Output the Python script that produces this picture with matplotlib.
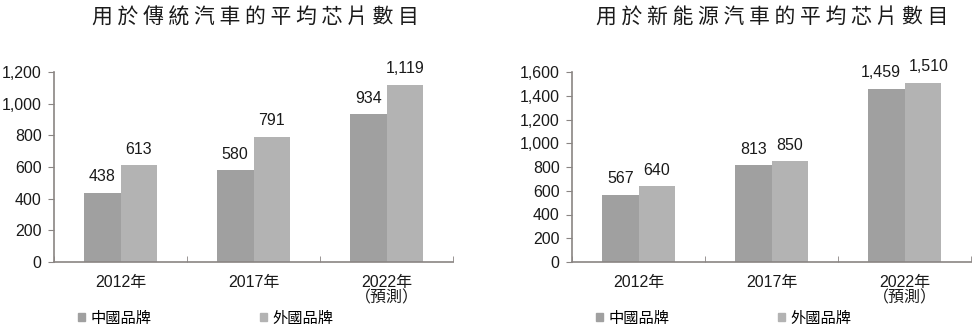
import matplotlib
matplotlib.use("Agg")
import matplotlib.pyplot as plt
from matplotlib.patches import Patch
import numpy as np

plt.rcParams['font.family'] = ['Liberation Sans', 'Noto Sans CJK TC', 'DejaVu Sans']

categories = ["2012年", "2017年", "2022年\n（預測）"]
series_names = ["中國品牌", "外國品牌"]
trad_china = [438, 580, 934]
trad_foreign = [613, 791, 1119]
nev_china = [567, 813, 1459]
nev_foreign = [640, 850, 1510]

title_left = "用於傳統汽車的平均芯片數目"
title_right = "用於新能源汽車的平均芯片數目"

C_DARK = "#a0a0a0"
C_LIGHT = "#b3b3b3"
C_TEXT = "#1a1a1a"
C_SPINE = "#8a8583"
CJK = ["Noto Sans CJK TC", "DejaVu Sans"]

fig = plt.figure(figsize=(9.77, 3.29), dpi=100)


def draw(ax, china, foreign, ymax, step, title, title_x, nudge=0):
    x = np.arange(len(categories))
    w = 0.275
    ax.bar(x - w / 2, china, w, color=C_DARK, zorder=2)
    ax.bar(x + w / 2, foreign, w, color=C_LIGHT, zorder=2)
    for i, (xi, v) in enumerate(zip(x - w / 2, china)):
        dx = -nudge if i == len(x) - 1 else 0
        ax.annotate(f"{v:,}", (xi, v), xytext=(dx, 6), textcoords="offset points",
                    ha="center", va="bottom", fontsize=11.5, color=C_TEXT)
    for i, (xi, v) in enumerate(zip(x + w / 2, foreign)):
        dx = nudge if i == len(x) - 1 else 0
        ax.annotate(f"{v:,}", (xi, v), xytext=(dx, 6), textcoords="offset points",
                    ha="center", va="bottom", fontsize=11.5, color=C_TEXT)
    ax.set_xlim(-0.5, len(categories) - 0.5)
    ax.set_ylim(0, ymax)
    ticks = np.arange(0, ymax + 1, step)
    ax.set_yticks(ticks)
    ax.set_yticklabels([f"{t:,}" for t in ticks])
    ax.set_xticks(x)
    ax.set_xticklabels(categories, fontsize=11.5, color=C_TEXT, linespacing=1.05)
    ax.set_xticks(np.arange(-0.5, len(categories)), minor=True)
    ax.tick_params(axis="x", which="major", length=0, pad=9)
    ax.tick_params(axis="x", which="minor", length=4, color=C_SPINE, direction="in")
    ax.tick_params(axis="y", length=4, color=C_SPINE, labelsize=11.5,
                   labelcolor=C_TEXT, pad=5)
    for s in ["top", "right"]:
        ax.spines[s].set_visible(False)
    for s in ["left", "bottom"]:
        ax.spines[s].set_color(C_SPINE)
        ax.spines[s].set_linewidth(1.2)
    handles = [Patch(color=C_DARK), Patch(color=C_LIGHT)]
    ax.legend(handles, series_names, loc="center left", bbox_to_anchor=(0.045, -0.295),
              ncol=2, frameon=False, handlelength=0.45, handleheight=0.45,
              handletextpad=0.35, columnspacing=7.1, borderaxespad=0,
              prop={"family": CJK, "size": 11})
    fig.text(title_x, 0.947, " ".join(title), ha="center", va="center",
             fontsize=15, color=C_TEXT, family=CJK, weight=500)


ax1 = fig.add_axes([54 / 977, 1 - 262 / 329, 399 / 977, 190 / 329])
ax2 = fig.add_axes([572 / 977, 1 - 262 / 329, 399 / 977, 190 / 329])
draw(ax1, trad_china, trad_foreign, 1200, 200, title_left, 255 / 977)
draw(ax2, nev_china, nev_foreign, 1600, 200, title_right, 772 / 977, nudge=4)

fig.savefig("out.png", dpi=100)
